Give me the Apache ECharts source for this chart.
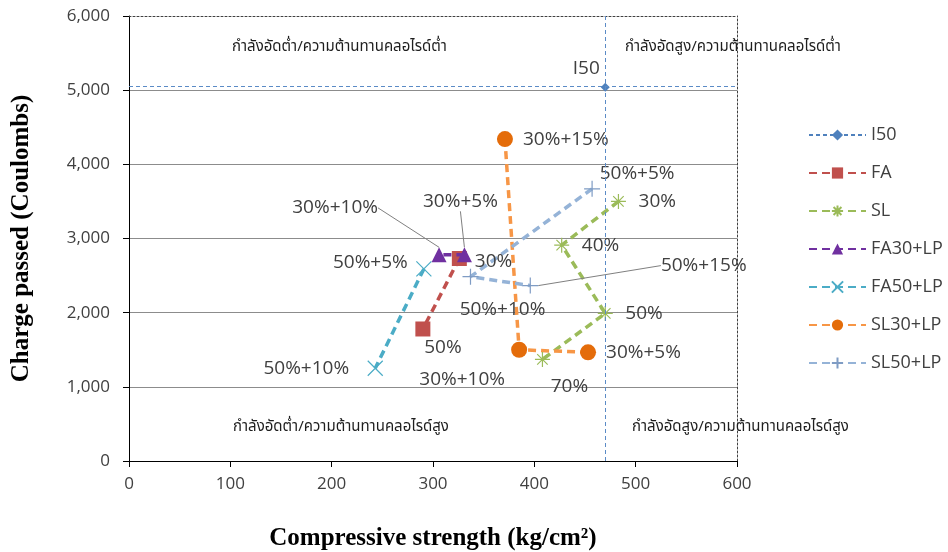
<!DOCTYPE html>
<html>
<head>
<meta charset="utf-8">
<script src="https://cdn.jsdelivr.net/npm/echarts@6/dist/echarts.min.js"></script>
<style>
  html, body { margin: 0; padding: 0; background: #ffffff; }
  #chart { width: 948px; height: 552px; }
</style>
</head>
<body>
<div id="chart"></div>
<script>
// Compressive strength (kg/cm²) vs. charge passed (Coulombs) for each mix group

const seriesNames = ['I50', 'FA', 'SL', 'FA30+LP', 'FA50+LP', 'SL30+LP', 'SL50+LP'];

// Reference mix and its threshold lines
const i50Strength = [470];
const i50Charge = [5040];
const i50Labels = ['I50'];
const i50StrengthLimit = 470;
const i50ChargeLimit = 5050;

const faStrength = [326, 290];
const faCharge = [2730, 1780];
const faLabels = ['30%', '50%'];

const slStrength = [483, 427, 470, 408];
const slCharge = [3500, 2910, 1990, 1370];
const slLabels = ['30%', '40%', '50%', '70%'];

const fa30lpStrength = [331, 306];
const fa30lpCharge = [2780, 2780];
const fa30lpLabels = ['30%+5%', '30%+10%'];

const fa50lpStrength = [291, 243];
const fa50lpCharge = [2590, 1250];
const fa50lpLabels = ['50%+5%', '50%+10%'];

const sl30lpStrength = [453, 385, 371];
const sl30lpCharge = [1465, 1500, 4340];
const sl30lpLabels = ['30%+5%', '30%+10%', '30%+15%'];

const sl50lpStrength = [457, 337, 396];
const sl50lpCharge = [3670, 2485, 2365];
const sl50lpLabels = ['50%+5%', '50%+10%', '50%+15%'];

const xTickLabels = ['0', '100', '200', '300', '400', '500', '600'];
const yTickLabels = ['0', '1,000', '2,000', '3,000', '4,000', '5,000', '6,000'];

const quadrantTexts = [
  'กำลังอัดต่ำ/ความต้านทานคลอไรด์ต่ำ',
  'กำลังอัดสูง/ความต้านทานคลอไรด์ต่ำ',
  'กำลังอัดต่ำ/ความต้านทานคลอไรด์สูง',
  'กำลังอัดสูง/ความต้านทานคลอไรด์สูง'
];

// ---- styling ----
const FONT = '"Open Sans", "Noto Sans", sans-serif';
const THAI_FONT = '"Noto Sans Thai", "Noto Sans Thai Looped", Tahoma, "DejaVu Sans", sans-serif';
const TEXT_COLOR = '#404040';
const DASH = [8, 5];

const PATH_ASTERISK = 'path://M5,0 L5,10 M0,5 L10,5 M1.5,1.5 L8.5,8.5 M8.5,1.5 L1.5,8.5';
const PATH_CROSS = 'path://M0,0 L10,10 M10,0 L0,10';
const PATH_PLUS = 'path://M5,0 L5,10 M0,5 L10,5';

// label placement per point
const baseLabel = { show: true, formatter: '{b}', color: TEXT_COLOR, fontFamily: FONT, fontSize: 19 };
const lbl = (position, distance, offset) => Object.assign({}, baseLabel, { position, distance, offset: offset || [0, 0] });

function items(xs, ys, names, placements, leaders) {
  return xs.map((x, i) => {
    const it = { value: [x, ys[i]], name: names[i], label: placements[i] };
    if (leaders && leaders[i]) it.labelLine = { show: true };
    return it;
  });
}

function makeSeries(name, color, lineWidth, symbol, symbolSize, itemStyle, data, extra) {
  return Object.assign({
    name, type: 'line', data,
    xAxisIndex: 0, yAxisIndex: 0,
    symbol, symbolSize,
    showSymbol: true,
    animation: false,
    lineStyle: { color, width: lineWidth, type: DASH },
    itemStyle: Object.assign({ color }, itemStyle || {}),
    labelLine: { show: false, lineStyle: { color: '#808080', width: 1 }, smooth: false },
    emphasis: { disabled: true },
    z: 3
  }, extra || {});
}

// label shifts applied through labelLayout (guide lines join some of them back to the point)
const labelShift = {
  'FA30+LP': [[-4, -31], [-104, -25]],
  'SL50+LP': [[45, 7], [32, 11], [114, -20]]
};

const series = [
  makeSeries('I50', '#4F81BD', 1, 'diamond', 9, null,
    items(i50Strength, i50Charge, i50Labels, [lbl('top', 5, [-19, 0])]),
    {
      lineStyle: { color: '#4F81BD', width: 1, type: [4, 3] },
      markLine: {
        silent: true, symbol: 'none', animation: false,
        label: { show: false },
        lineStyle: { color: '#5B8BC6', width: 1, type: [4, 3] },
        data: [{ xAxis: i50StrengthLimit }, { yAxis: i50ChargeLimit }]
      }
    }),
  makeSeries('FA', '#C0504D', 3.5, 'rect', 15, null,
    items(faStrength, faCharge, faLabels, [lbl('right', 8, [0, 3]), lbl('bottom', 5, [20, -3])])),
  makeSeries('SL', '#9BBB59', 3.5, PATH_ASTERISK, 15,
    { color: 'rgba(0,0,0,0)', borderColor: '#9BBB59', borderWidth: 1.2 },
    items(slStrength, slCharge, slLabels,
      [lbl('right', 12), lbl('right', 12), lbl('right', 12), lbl('bottom', 4, [27, 6])])),
  makeSeries('FA30+LP', '#7030A0', 3.5, 'triangle', 15, null,
    items(fa30lpStrength, fa30lpCharge, fa30lpLabels, [lbl('top', 5), lbl('top', 5)], [true, true]),
    { z: 4 }),
  makeSeries('FA50+LP', '#4BACC6', 3.5, PATH_CROSS, 15,
    { color: 'rgba(0,0,0,0)', borderColor: '#4BACC6', borderWidth: 1.2 },
    items(fa50lpStrength, fa50lpCharge, fa50lpLabels, [lbl('left', 8, [0, -6]), lbl('left', 18)])),
  makeSeries('SL30+LP', '#F79646', 3.5, 'circle', 16,
    { color: '#E46C0A' },
    items(sl30lpStrength, sl30lpCharge, sl30lpLabels,
      [lbl('right', 10), lbl('bottom', 4, [-57, 8]), lbl('right', 10)])),
  makeSeries('SL50+LP', '#95B3D7', 3.5, PATH_PLUS, 16,
    { color: 'rgba(0,0,0,0)', borderColor: '#7F9CC4', borderWidth: 1.2 },
    items(sl50lpStrength, sl50lpCharge, sl50lpLabels,
      [lbl('top', 4), lbl('bottom', 4), lbl('right', 8)], [false, false, true]))
];

series.forEach(s => {
  if (labelShift[s.name]) {
    const shifts = labelShift[s.name];
    s.labelLayout = p => ({ dx: shifts[p.dataIndex][0], dy: shifts[p.dataIndex][1] });
  }
});

const chart = echarts.init(document.getElementById('chart'), null, { renderer: 'canvas' });

const thaiText = (i, left, top) => ({
  type: 'text', left, top, z: 10,
  style: { text: quadrantTexts[i], font: '15px ' + THAI_FONT, fill: '#1E1E1E' }
});

const option = {
  backgroundColor: '#ffffff',
  animation: false,
  grid: { left: 129, right: 211, top: 16, bottom: 91, containLabel: false, outerBoundsMode: 'none' },
  legend: {
    data: seriesNames,
    orient: 'vertical',
    left: 803, top: 121,
    itemWidth: 57, itemHeight: 14, itemGap: 20,
    textStyle: { color: TEXT_COLOR, fontFamily: FONT, fontSize: 18 },
    selectedMode: false
  },
  xAxis: [{
    type: 'value', min: 0, max: 600, interval: 100,
    name: 'Compressive strength (kg/cm²)',
    nameLocation: 'middle', nameGap: 65,
    nameTextStyle: { fontFamily: '"Liberation Serif", "Times New Roman", serif', fontWeight: 'bold', fontSize: 25, color: '#000' },
    axisLine: { show: true, onZero: false, lineStyle: { color: '#000', width: 1 } },
    axisTick: { show: true, length: 6, lineStyle: { color: '#000' } },
    axisLabel: { color: TEXT_COLOR, fontFamily: FONT, fontSize: 17, margin: 15,
      formatter: (v) => xTickLabels[Math.round(v / 100)] },
    splitLine: { show: false }
  }, {
    type: 'value', min: 0, max: 600, position: 'top',
    axisLine: { show: true, onZero: false, lineStyle: { color: '#404040', width: 1, type: [2, 2] } },
    axisTick: { show: false }, axisLabel: { show: false }, splitLine: { show: false }
  }],
  yAxis: [{
    type: 'value', min: 0, max: 6000, interval: 1000,
    name: 'Charge passed (Coulombs)',
    nameLocation: 'middle', nameGap: 95,
    nameTextStyle: { fontFamily: '"Liberation Serif", "Times New Roman", serif', fontWeight: 'bold', fontSize: 25, color: '#000' },
    axisLine: { show: true, onZero: false, lineStyle: { color: '#000', width: 1 } },
    axisTick: { show: true, length: 6, lineStyle: { color: '#000' } },
    axisLabel: { color: TEXT_COLOR, fontFamily: FONT, fontSize: 17, margin: 19,
      formatter: (v) => yTickLabels[Math.round(v / 1000)] },
    splitLine: { show: true, lineStyle: {
      color: ['#8C8C8C', '#8C8C8C', '#8C8C8C', '#8C8C8C', '#8C8C8C', '#8C8C8C', 'rgba(0,0,0,0)'], width: 1 } }
  }, {
    type: 'value', min: 0, max: 6000, position: 'right',
    axisLine: { show: true, onZero: false, lineStyle: { color: '#404040', width: 1, type: [2, 2] } },
    axisTick: { show: false }, axisLabel: { show: false }, splitLine: { show: false }
  }],
  graphic: [
    thaiText(0, 232, 40),
    thaiText(1, 625, 40),
    thaiText(2, 233, 420),
    thaiText(3, 632, 420)
  ],
  series
};

chart.setOption(option);
</script>
</body>
</html>
